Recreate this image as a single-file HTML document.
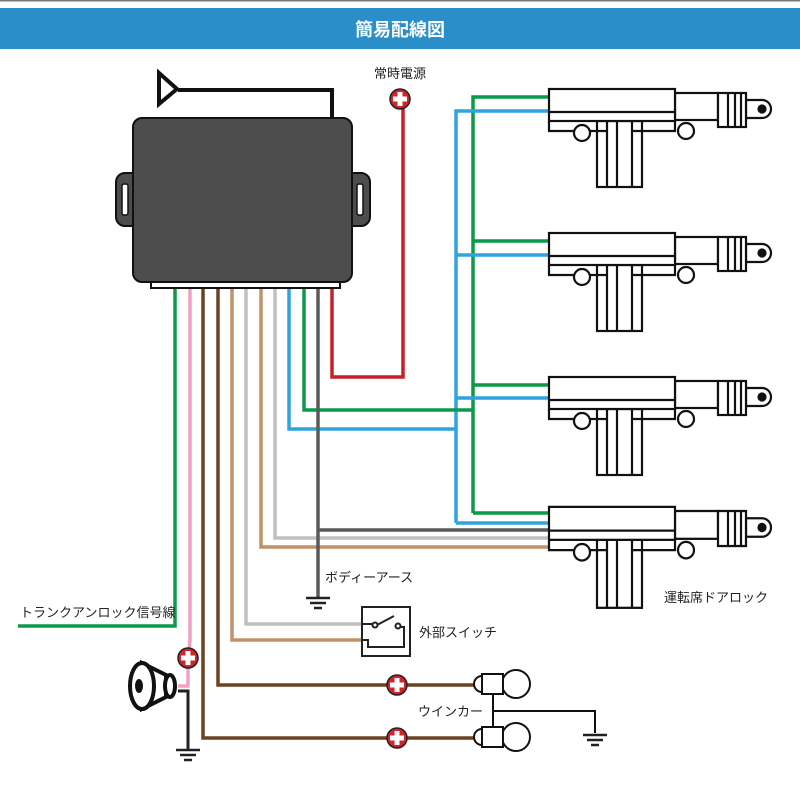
<!DOCTYPE html>
<html><head><meta charset="utf-8"><style>
html,body{margin:0;padding:0;background:#fff;}
svg{display:block;}
text{font-family:"Liberation Sans","Noto Sans CJK JP",sans-serif;}
</style></head><body>
<svg width="800" height="800" viewBox="0 0 800 800" xmlns="http://www.w3.org/2000/svg">
<defs>
<g id="fuse"><circle r="10" fill="#d0232a" stroke="#222" stroke-width="1.5"/><rect x="-7" y="-2.5" width="14" height="5" fill="#fff"/><rect x="-2.5" y="-7" width="5" height="14" fill="#fff"/></g>
<g id="gnd" stroke="#222" stroke-width="2.5"><line x1="-12" y1="0" x2="12" y2="0"/><line x1="-8" y1="5" x2="8" y2="5"/><line x1="-4" y1="10" x2="4" y2="10"/></g>
<g id="door" fill="#fff" stroke="#111" stroke-width="2.2">
<rect x="597" y="121" width="45" height="66"/>
<line x1="607" y1="121" x2="607" y2="187"/><line x1="617" y1="121" x2="617" y2="187"/><line x1="632" y1="121" x2="632" y2="187"/>
<path d="M549 121 V131 H608 M632 131 H675 V121" fill="none"/>
<circle cx="582" cy="133" r="8"/><circle cx="686" cy="131" r="8"/>
<rect x="675" y="93" width="43" height="27"/>
<path d="M746 100 H762 A9 9 0 0 1 762 118 H746 Z"/>
<circle cx="762" cy="109" r="3.5" fill="#111"/>
<rect x="718" y="93" width="28" height="34"/>
<line x1="728" y1="93" x2="728" y2="127"/><line x1="735" y1="93" x2="735" y2="127"/><line x1="741" y1="93" x2="741" y2="127"/>
<rect x="549" y="89" width="126" height="32"/>
<line x1="549" y1="112" x2="675" y2="112"/>
</g>
</defs>
<rect x="0" y="0" width="800" height="1.5" fill="#777"/>
<rect x="0" y="8" width="800" height="41" fill="#2a8fc8"/>
<text x="400" y="36" font-size="18" font-weight="bold" fill="#fff" text-anchor="middle">簡易配線図</text>

<!-- buses -->
<g fill="none" stroke-width="3.5">
<path d="M473 513 V97 H549 M473 241 H549 M473 385 H549" stroke="#0a9a4a"/>
<path d="M456 523 H549 M456 523 V111 H549 M456 255 H549 M456 398 H549" stroke="#2fa3dd"/>
<path d="M473 513 H549" stroke="#0a9a4a"/>
<!-- wires from unit -->
<path d="M175 288 V626 H18" stroke="#0a9a4a"/>
<path d="M190 288 V640 L188 660 V686 H178" stroke="#f0a0c4"/>
<path d="M203 288 V738 H478" stroke="#6b4320"/>
<path d="M218 288 V685 H478" stroke="#6b4320"/>
<path d="M232 288 V640 H362" stroke="#c09266"/>
<path d="M246 288 V624 H362" stroke="#c0c0c0"/>
<path d="M261 288 V547 H549" stroke="#c09266"/>
<path d="M275 288 V538 H549" stroke="#c0c0c0"/>
<path d="M289 288 V429 H456" stroke="#2fa3dd"/>
<path d="M304 288 V410 H473" stroke="#0a9a4a"/>
<path d="M318 288 V598 M318 530 H549" stroke="#5a5a5a"/>
<path d="M332 288 V377 H403 V100" stroke="#c8202a"/>
<path d="M178 691 H188 V750" stroke="#222" stroke-width="3"/>
</g>

<use href="#door"/>
<use href="#door" transform="translate(0,144)"/>
<use href="#door" transform="translate(0,288)"/>
<use href="#door" transform="translate(0,418) scale(1,1.03) translate(0,-2.7)"/>

<!-- antenna and unit -->
<path d="M178 90 H332 V118" fill="none" stroke="#111" stroke-width="4"/>
<path d="M159 73 L177 89 L159 104 Z" fill="#fff" stroke="#111" stroke-width="4"/>
<rect x="151" y="280" width="189" height="8" fill="#fff" stroke="#111" stroke-width="2"/>
<rect x="116" y="173" width="30" height="53" rx="9" fill="#4d4d4d" stroke="#111" stroke-width="2"/>
<rect x="340" y="173" width="30" height="53" rx="9" fill="#4d4d4d" stroke="#111" stroke-width="2"/>
<rect x="122" y="184" width="6" height="31" rx="2" fill="#fff" stroke="#111" stroke-width="1.5"/>
<rect x="357" y="184" width="6" height="31" rx="2" fill="#fff" stroke="#111" stroke-width="1.5"/>
<rect x="133" y="118" width="219" height="164" rx="9" fill="#4d4d4d" stroke="#111" stroke-width="2"/>

<!-- fuses -->
<use href="#fuse" x="400" y="99"/>
<use href="#fuse" x="188" y="658"/>
<use href="#fuse" x="397" y="685"/>
<use href="#fuse" x="397" y="738"/>

<!-- grounds -->
<use href="#gnd" x="318" y="598"/>
<use href="#gnd" x="188" y="750"/>
<use href="#gnd" x="595" y="735"/>

<!-- switch -->
<rect x="362" y="607" width="48" height="49" fill="#fff" stroke="#222" stroke-width="2"/>
<g fill="none" stroke="#222" stroke-width="2">
<path d="M362 624 H374 M362 640 H368 V647 H404 V627 H400"/>
<line x1="377" y1="625" x2="394" y2="616"/>
<circle cx="375" cy="625" r="2.5" fill="#fff"/><circle cx="398" cy="626" r="2.5" fill="#fff"/>
</g>

<!-- speaker -->
<g fill="#fff" stroke="#111" stroke-width="4">
<path d="M142 663 L166 675 V697 L142 709 Z"/>
<ellipse cx="142" cy="686" rx="12" ry="23"/>
<ellipse cx="170" cy="686" rx="5" ry="11"/>
</g>
<ellipse cx="139" cy="686" rx="4" ry="7" fill="#111"/>

<!-- bulbs -->
<g fill="#fff" stroke="#111" stroke-width="2">
<path d="M493 694 V727 M493 711 H595 V733" fill="none"/>
<circle cx="516" cy="684" r="14"/><path d="M482 676 A8 8 0 0 0 482 692"/><rect x="482" y="674" width="21" height="20"/>
<circle cx="516" cy="737" r="14"/><path d="M482 729 A8 8 0 0 0 482 745"/><rect x="482" y="727" width="21" height="20"/>
</g>

<g font-size="13" fill="#222">
<text x="374" y="78">常時電源</text>
<text x="20" y="617">トランクアンロック信号線</text>
<text x="325" y="582">ボディーアース</text>
<text x="419" y="637">外部スイッチ</text>
<text x="418" y="716">ウインカー</text>
<text x="664" y="602">運転席ドアロック</text>
</g>
</svg>
</body></html>
